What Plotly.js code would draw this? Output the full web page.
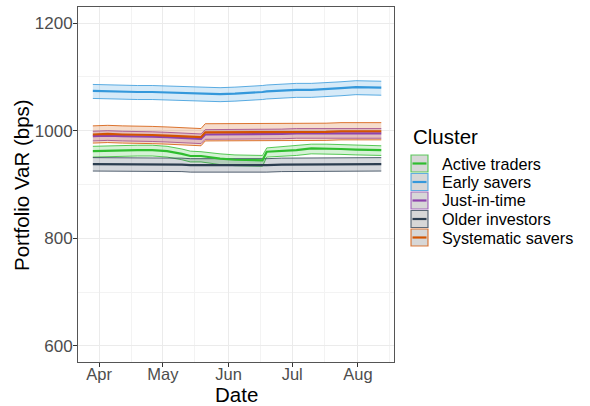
<!DOCTYPE html>
<html>
<head>
<meta charset="utf-8">
<script src="https://cdn.plot.ly/plotly-3.0.1.min.js"></script>
<style>body{margin:0;background:#fff}</style>
</head>
<body>
<div id="chart" style="width:590px;height:406px"></div>
<script>
// ---- data ----
const dates = ['2021-03-29','2021-04-05','2021-04-12','2021-04-19','2021-04-26','2021-05-03','2021-05-10','2021-05-14','2021-05-19','2021-05-21','2021-05-28','2021-06-04','2021-06-11','2021-06-17','2021-06-19','2021-06-26','2021-07-03','2021-07-10','2021-07-17','2021-07-24','2021-07-31','2021-08-07','2021-08-12'];

const clusters = ['Active traders','Early savers','Just-in-time','Older investors','Systematic savers'];
const colors = ['#2fbd2f','#3498db','#8e44ad','#2c3e50','#d35400'];

const activeMean = [962,963,963,964,964,962,957,953,953,952,948,946,945,945,961,962,964,967,967,966,965,964,964];
const activeHi   = [971,972,972,973,973,971,966,962,961,960,957,955,954,954,968,970,972,975,975,974,973,972,972];
const activeLo   = [951,952,952,953,953,951,946,942,942,941,937,935,934,934,951,952,954,957,957,956,955,954,954];

const earlyMean = [1074,1073,1073,1072,1072,1071,1070,1069,1068,1068,1068,1069,1070,1072,1073,1075,1076,1076,1077,1079,1081,1080,1080];
const earlyHi   = [1086,1085,1085,1084,1084,1083,1082,1081,1080,1080,1080,1081,1082,1084,1085,1087,1088,1088,1089,1091,1093,1092,1092];
const earlyLo   = [1060,1059,1059,1058,1058,1057,1056,1055,1054,1054,1054,1055,1056,1058,1059,1061,1062,1062,1063,1065,1067,1066,1066];

const justMean = [990,991,990,990,989,988,987,986,985,993,993,993,993,994,994,994,995,995,995,996,996,995,995];
const justHi   = [999,1000,999,999,998,997,996,995,994,1002,1002,1002,1002,1003,1003,1003,1004,1004,1004,1005,1005,1004,1004];
const justLo   = [981,982,981,981,980,979,978,977,976,984,984,984,984,985,985,985,986,986,986,987,987,986,986];

const olderMean = [938,938,938,938,937,937,937,936,936,935,935,935,935,936,936,937,937,937,938,938,938,938,938];
const olderHi   = [950,950,950,950,949,949,949,948,948,947,947,947,947,948,948,949,949,949,950,950,950,950,950];
const olderLo   = [925,925,925,925,924,924,924,923,923,922,922,922,922,923,923,924,924,924,925,925,925,925,925];

const systMean = [993,994,993,993,992,991,990,989,988,997,997,997,997,997,997,998,998,998,998,999,999,999,999];
const systHi   = [1009,1010,1009,1009,1008,1007,1006,1005,1004,1013,1013,1013,1013,1013,1013,1014,1014,1014,1014,1015,1015,1015,1015];
const systLo   = [977,978,977,977,976,975,974,973,972,981,981,981,981,981,981,982,982,982,982,983,983,983,983];

const yTicks = [600,800,1000,1200];
const yLimits = [600,1200];

// ---- build ----
const means = [activeMean, earlyMean, justMean, olderMean, systMean];
const his = [activeHi, earlyHi, justHi, olderHi, systHi];
const los = [activeLo, earlyLo, justLo, olderLo, systLo];

function rgba(hex, a){
  const n = parseInt(hex.slice(1),16);
  return 'rgba('+((n>>16)&255)+','+((n>>8)&255)+','+(n&255)+','+a+')';
}

const traces = [];
clusters.forEach((c,i)=>{
  traces.push({x:dates, y:los[i], type:'scatter', mode:'lines', line:{color:colors[i], width:0.8}, showlegend:false, hoverinfo:'skip'});
  traces.push({x:dates, y:his[i], type:'scatter', mode:'lines', fill:'tonexty', fillcolor:rgba(colors[i],0.2), line:{color:colors[i], width:0.8}, showlegend:false, hoverinfo:'skip'});
});
clusters.forEach((c,i)=>{
  traces.push({x:dates, y:means[i], type:'scatter', mode:'lines', name:c, line:{color:colors[i], width:2.2}, showlegend:false, hoverinfo:'skip'});
});

// x range with 5% expansion (ggplot default)
const t0 = new Date(dates[0]).getTime(), t1 = new Date(dates[dates.length-1]).getTime();
const pad = (t1-t0)*0.05;
const fmt = t => new Date(t).toISOString().slice(0,10);
const xRange = [fmt(t0-pad), fmt(t1+pad)];
const ySpan = yLimits[1]-yLimits[0];
const yRange = [yLimits[0]-0.05*ySpan, yLimits[1]+0.05*ySpan];

const L=78, R=394, T=7, B=362;
const px = x => (x-L)/(R-L);
const py = y => (B-y)/(B-T);

const FONT = 'Liberation Sans, Arial, sans-serif';
const shapes = [];
const annotations = [];

// axis titles
annotations.push({xref:'paper', yref:'paper', x:px(236), y:py(394), xanchor:'center', yanchor:'middle', text:'Date', showarrow:false, font:{family:FONT, size:20.5, color:'#000'}});
annotations.push({xref:'paper', yref:'paper', x:px(21), y:py(185), xanchor:'center', yanchor:'middle', textangle:-90, text:'Portfolio VaR (bps)', showarrow:false, font:{family:FONT, size:20.5, color:'#000'}});

// legend
annotations.push({xref:'paper', yref:'paper', x:px(411), y:py(137), xanchor:'left', yanchor:'middle', text:'Cluster', showarrow:false, font:{family:FONT, size:20.5, color:'#000'}});
clusters.forEach((c,i)=>{
  const cy = 163.5 + i*18.5;
  shapes.push({type:'rect', xref:'paper', yref:'paper', x0:px(411), x1:px(428), y0:py(cy-8.5), y1:py(cy+8.5), fillcolor:'#d7d7d7', line:{color:rgba(colors[i],0.75), width:1.2}});
  shapes.push({type:'line', xref:'paper', yref:'paper', x0:px(412.5), x1:px(426.5), y0:py(cy), y1:py(cy), line:{color:colors[i], width:2.2}});
  annotations.push({xref:'paper', yref:'paper', x:px(440), y:py(cy), xanchor:'left', yanchor:'middle', text:c, showarrow:false, font:{family:FONT, size:16.2, color:'#000'}});
});

const layout = {
  width:590, height:406,
  margin:{l:L, r:590-R, t:T, b:406-B},
  paper_bgcolor:'#fff', plot_bgcolor:'#fff',
  font:{family:FONT},
  showlegend:false,
  xaxis:{
    type:'date', range:xRange, autorange:false,
    dtick:'M1', tick0:'2021-04-01', tickformat:'%b',
    ticks:'outside', ticklen:4, tickcolor:'#333', tickwidth:1,
    ticklabelstandoff:-7,
    tickfont:{family:FONT, size:16.5, color:'#4d4d4d'},
    showgrid:true, gridcolor:'#ebebeb', gridwidth:1,
    minor:{tick0:'2021-04-16', dtick:'M1', showgrid:true, gridcolor:'#f3f3f3', gridwidth:1, ticks:''},
    showline:true, mirror:true, linecolor:'#555', linewidth:1,
    zeroline:false,
    automargin:false
  },
  yaxis:{
    range:yRange, autorange:false,
    tickvals:yTicks, ticktext:yTicks.map(String),
    ticks:'outside', ticklen:4, tickcolor:'#333', tickwidth:1,
    ticklabelstandoff:-3,
    tickfont:{family:FONT, size:17, color:'#4d4d4d'},
    showgrid:true, gridcolor:'#ebebeb', gridwidth:1,
    minor:{dtick:100, tick0:600, showgrid:true, gridcolor:'#f3f3f3', gridwidth:1, ticks:''},
    showline:true, mirror:true, linecolor:'#555', linewidth:1,
    zeroline:false,
    automargin:false
  },
  shapes:shapes,
  annotations:annotations
};

Plotly.newPlot('chart', traces, layout, {displayModeBar:false, staticPlot:true});
</script>
</body>
</html>
